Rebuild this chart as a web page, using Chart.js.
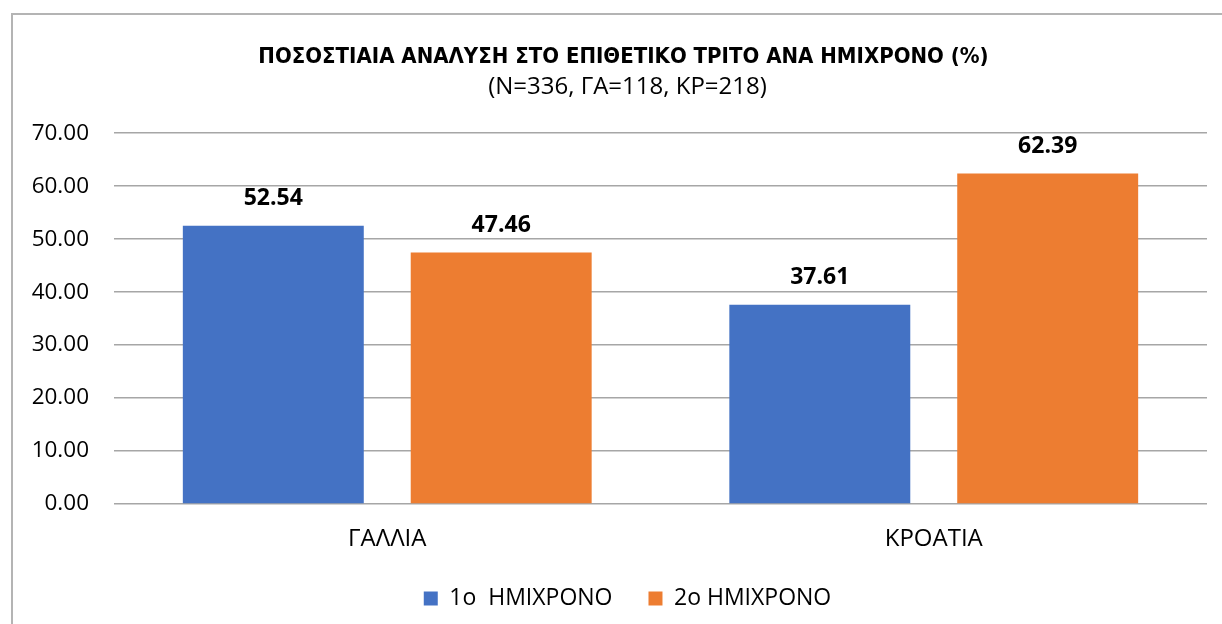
<!DOCTYPE html>
<html>
<head>
<meta charset="utf-8">
<script src="https://cdn.jsdelivr.net/npm/chart.js@4.4.1/dist/chart.umd.min.js"></script>
<style>
html, body { margin: 0; padding: 0; background: #fff; overflow: hidden; }
#frame { position: absolute; left: 11px; top: 13px; width: 1300px; height: 700px;
  border-left: 2px solid #b4b4b4; border-top: 2px solid #b4b4b4; }
#wrap { position: absolute; left: 0; top: 0; width: 1222px; height: 624px; }
</style>
</head>
<body>
<div id="frame"></div>
<div id="wrap"><canvas id="chart"></canvas></div>
<script>
var categories = ['ΓΑΛΛΙΑ', 'ΚΡΟΑΤΙΑ'];
var seriesNames = ['1o  ΗΜΙΧΡΟΝΟ', '2o ΗΜΙΧΡΟΝΟ'];
var firstHalf = [52.54, 37.61];
var secondHalf = [47.46, 62.39];
var yMin = 0, yMax = 70, yStep = 10;

var titleText = 'ΠΟΣΟΣΤΙΑΙΑ ΑΝΑΛΥΣΗ ΣΤΟ ΕΠΙΘΕΤΙΚΟ ΤΡΙΤΟ ΑΝΑ ΗΜΙΧΡΟΝΟ (%)';
var subtitleText = '(N=336, ΓΑ=118, ΚΡ=218)';

var bodyFont = '"Open Sans", "Liberation Sans", sans-serif';

// value labels above each bar
var valueLabels = {
  id: 'valueLabels',
  afterDatasetsDraw: function(chart){
    var ctx = chart.ctx;
    ctx.save();
    ctx.font = 'bold 23px ' + bodyFont;
    ctx.fillStyle = '#000';
    ctx.textAlign = 'center';
    ctx.textBaseline = 'middle';
    chart.data.datasets.forEach(function(ds, i){
      chart.getDatasetMeta(i).data.forEach(function(bar, j){
        ctx.fillText(ds.data[j].toFixed(2), bar.x, bar.y - 27);
      });
    });
    ctx.restore();
  }
};

// title, subtitle and legend sit a bit right of centre in the original
var shiftBoxes = {
  id: 'shiftBoxes',
  afterLayout: function(chart){
    chart.boxes.forEach(function(b){
      if (b.axis) return;
      var dx = (b === chart.titleBlock) ? 20 : 24;
      b.left += dx;
      b.right += dx;
    });
  }
};

var ctx = document.getElementById('chart').getContext('2d');
var myChart = new Chart(ctx, {
  type: 'bar',
  data: {
    labels: categories,
    datasets: [{
      label: seriesNames[0],
      data: firstHalf,
      backgroundColor: '#4472C4',
      categoryPercentage: 0.834,
      barPercentage: 0.794
    }, {
      label: seriesNames[1],
      data: secondHalf,
      backgroundColor: '#ED7D31',
      categoryPercentage: 0.834,
      barPercentage: 0.794
    }]
  },
  options: {
    responsive: true,
    maintainAspectRatio: false,
    animation: false,
    layout: { padding: { left: 0, right: 15, top: 0, bottom: 4 } },
    plugins: {
      title: {
        display: true,
        text: titleText,
        color: '#000',
        font: { family: '"Liberation Sans Narrow", "DejaVu Sans Condensed", sans-serif', size: 22, weight: 'bold' },
        padding: { top: 44, bottom: 2 }
      },
      subtitle: {
        display: true,
        text: subtitleText,
        color: '#000',
        font: { family: bodyFont, size: 24 },
        padding: { top: 0, bottom: 32 }
      },
      legend: {
        position: 'bottom',
        labels: {
          color: '#000',
          font: { family: bodyFont, size: 23 },
          boxWidth: 14,
          boxHeight: 14,
          padding: 36
        }
      },
      tooltip: { enabled: false }
    },
    scales: {
      x: {
        grid: { display: false, drawTicks: false },
        border: { display: false },
        ticks: { color: '#000', font: { family: bodyFont, size: 24, lineHeight: 1 }, padding: 23 },
        afterFit: function(s){ s.height = 47; }
      },
      y: {
        min: yMin,
        max: yMax,
        ticks: {
          stepSize: yStep,
          color: '#000',
          font: { family: bodyFont, size: 22.5 },
          padding: 25,
          callback: function(v){ return v.toFixed(2); }
        },
        grid: { color: '#a6a6a6', lineWidth: 1.5, drawTicks: false },
        border: { display: false },
        afterFit: function(s){ s.width = 114; }
      }
    }
  },
  plugins: [valueLabels, shiftBoxes]
});
</script>
</body>
</html>
